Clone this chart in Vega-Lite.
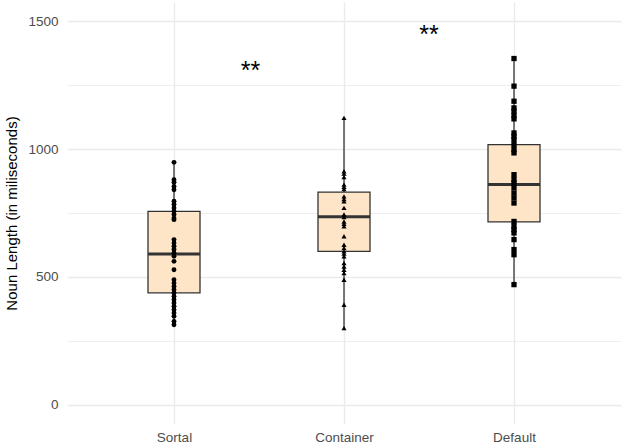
{
  "$schema": "https://vega.github.io/schema/vega-lite/v6.json",
  "width": 554,
  "height": 422,
  "autosize": {"type": "none"},
  "padding": {"left": 67, "top": 2, "right": 3, "bottom": 20},
  "background": "white",
  "datasets": {
    "boxes": [
      {"group": "Sortal", "pos": 1, "ymin": 313, "lower": 438, "median": 590, "upper": 756, "ymax": 948},
      {"group": "Container", "pos": 2, "ymin": 300, "lower": 600, "median": 735, "upper": 832, "ymax": 1122},
      {"group": "Default", "pos": 3, "ymin": 470, "lower": 715, "median": 861, "upper": 1017, "ymax": 1354}
    ],
    "points": [
      {"group": "Sortal", "ms": 948}, {"group": "Sortal", "ms": 880}, {"group": "Sortal", "ms": 870},
      {"group": "Sortal", "ms": 854}, {"group": "Sortal", "ms": 841}, {"group": "Sortal", "ms": 796},
      {"group": "Sortal", "ms": 783}, {"group": "Sortal", "ms": 770}, {"group": "Sortal", "ms": 757},
      {"group": "Sortal", "ms": 744}, {"group": "Sortal", "ms": 730}, {"group": "Sortal", "ms": 724},
      {"group": "Sortal", "ms": 646}, {"group": "Sortal", "ms": 633}, {"group": "Sortal", "ms": 620},
      {"group": "Sortal", "ms": 607}, {"group": "Sortal", "ms": 594}, {"group": "Sortal", "ms": 581},
      {"group": "Sortal", "ms": 561}, {"group": "Sortal", "ms": 528}, {"group": "Sortal", "ms": 489},
      {"group": "Sortal", "ms": 476}, {"group": "Sortal", "ms": 463}, {"group": "Sortal", "ms": 450},
      {"group": "Sortal", "ms": 437}, {"group": "Sortal", "ms": 424}, {"group": "Sortal", "ms": 411},
      {"group": "Sortal", "ms": 398}, {"group": "Sortal", "ms": 385}, {"group": "Sortal", "ms": 372},
      {"group": "Sortal", "ms": 359}, {"group": "Sortal", "ms": 346}, {"group": "Sortal", "ms": 326},
      {"group": "Sortal", "ms": 313},
      {"group": "Container", "ms": 1122}, {"group": "Container", "ms": 913}, {"group": "Container", "ms": 904},
      {"group": "Container", "ms": 891}, {"group": "Container", "ms": 861}, {"group": "Container", "ms": 852},
      {"group": "Container", "ms": 844}, {"group": "Container", "ms": 815}, {"group": "Container", "ms": 805},
      {"group": "Container", "ms": 796}, {"group": "Container", "ms": 770}, {"group": "Container", "ms": 744},
      {"group": "Container", "ms": 734}, {"group": "Container", "ms": 717}, {"group": "Container", "ms": 708},
      {"group": "Container", "ms": 698}, {"group": "Container", "ms": 659}, {"group": "Container", "ms": 626},
      {"group": "Container", "ms": 613}, {"group": "Container", "ms": 600}, {"group": "Container", "ms": 591},
      {"group": "Container", "ms": 581}, {"group": "Container", "ms": 554}, {"group": "Container", "ms": 541},
      {"group": "Container", "ms": 528}, {"group": "Container", "ms": 515}, {"group": "Container", "ms": 489},
      {"group": "Container", "ms": 391}, {"group": "Container", "ms": 300},
      {"group": "Default", "ms": 1354}, {"group": "Default", "ms": 1246}, {"group": "Default", "ms": 1187},
      {"group": "Default", "ms": 1161}, {"group": "Default", "ms": 1148}, {"group": "Default", "ms": 1131},
      {"group": "Default", "ms": 1118}, {"group": "Default", "ms": 1063}, {"group": "Default", "ms": 1050},
      {"group": "Default", "ms": 1037}, {"group": "Default", "ms": 1017}, {"group": "Default", "ms": 998},
      {"group": "Default", "ms": 985}, {"group": "Default", "ms": 900}, {"group": "Default", "ms": 881},
      {"group": "Default", "ms": 867}, {"group": "Default", "ms": 848}, {"group": "Default", "ms": 828},
      {"group": "Default", "ms": 809}, {"group": "Default", "ms": 789}, {"group": "Default", "ms": 717},
      {"group": "Default", "ms": 698}, {"group": "Default", "ms": 685}, {"group": "Default", "ms": 672},
      {"group": "Default", "ms": 646}, {"group": "Default", "ms": 607}, {"group": "Default", "ms": 587},
      {"group": "Default", "ms": 470}
    ],
    "stars": [
      {"pos": 1.45, "ms": 1322, "label": "**"},
      {"pos": 2.5, "ms": 1461, "label": "**"}
    ]
  },
  "encoding": {
    "x": {
      "field": "pos",
      "type": "quantitative",
      "scale": {"domain": [0.4, 3.6], "nice": false, "zero": false},
      "axis": {
        "title": null,
        "values": [1, 2, 3],
        "labelExpr": "datum.value == 1 ? 'Sortal' : datum.value == 2 ? 'Container' : 'Default'",
        "domain": false,
        "ticks": false,
        "labelPadding": 6,
        "labelFontSize": 13.5,
        "labelColor": "#4d4d4d",
        "labelFont": "Liberation Sans",
        "gridColor": "#ebebeb",
        "gridWidth": 1.4
      }
    }
  },
  "layer": [
    {
      "data": {"name": "boxes"},
      "mark": {"type": "rule", "color": "#333333", "strokeWidth": 1.3},
      "encoding": {
        "y": {
          "field": "ymin",
          "type": "quantitative",
          "scale": {"domain": [-75, 1575], "nice": false, "zero": false},
          "axis": {
            "title": "Noun Length (in miliseconds)",
            "titleFont": "Liberation Sans",
            "titleFontSize": 15,
            "titleFontWeight": "normal",
            "titleColor": "black",
            "titlePadding": 8,
            "values": [0, 250, 500, 750, 1000, 1250, 1500],
            "labelExpr": "datum.value % 500 == 0 ? datum.value : ''",
            "domain": false,
            "ticks": false,
            "labelPadding": 9,
            "labelFontSize": 13.5,
            "labelColor": "#4d4d4d",
            "labelFont": "Liberation Sans",
            "gridColor": "#ebebeb",
            "gridWidth": {"condition": {"test": "datum.value % 500 == 0", "value": 1.4}, "value": 0.8}
          }
        },
        "y2": {"field": "ymax"}
      }
    },
    {
      "data": {"name": "boxes"},
      "mark": {"type": "bar", "size": 52, "fill": "#FFE5C8", "stroke": "#333333", "strokeWidth": 1.3},
      "encoding": {
        "y": {"field": "lower", "type": "quantitative"},
        "y2": {"field": "upper"}
      }
    },
    {
      "data": {"name": "boxes"},
      "mark": {"type": "tick", "orient": "horizontal", "size": 52, "thickness": 3, "color": "#333333", "opacity": 1},
      "encoding": {
        "y": {"field": "median", "type": "quantitative"}
      }
    },
    {
      "data": {"name": "points"},
      "transform": [
        {"lookup": "group", "from": {"data": {"name": "boxes"}, "key": "group", "fields": ["pos"]}}
      ],
      "mark": {"type": "point", "filled": true, "opacity": 1, "color": "black"},
      "encoding": {
        "y": {"field": "ms", "type": "quantitative"},
        "shape": {
          "field": "group",
          "type": "nominal",
          "scale": {"domain": ["Sortal", "Container", "Default"], "range": ["circle", "triangle-up", "square"]},
          "legend": null
        },
        "size": {
          "field": "group",
          "type": "nominal",
          "scale": {"domain": ["Sortal", "Container", "Default"], "range": [24, 28, 22]},
          "legend": null
        }
      }
    },
    {
      "data": {"name": "stars"},
      "mark": {"type": "text", "fontSize": 25, "font": "Liberation Sans", "color": "black", "baseline": "middle", "align": "center", "dy": 4},
      "encoding": {
        "y": {"field": "ms", "type": "quantitative"},
        "text": {"field": "label"}
      }
    }
  ],
  "config": {"view": {"stroke": null}}
}
